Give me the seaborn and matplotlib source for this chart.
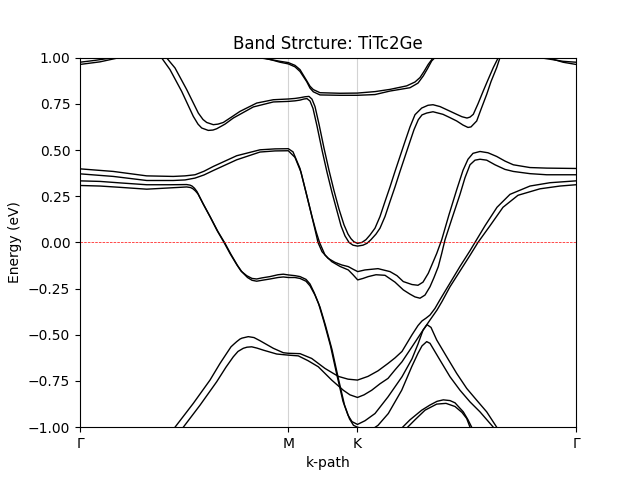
import matplotlib
matplotlib.use("Agg")
import matplotlib.pyplot as plt
import seaborn as sns
import pandas as pd

# k-path tick positions and labels
tick_pos = [0.0, 2.083, 2.773, 4.96]
tick_labels = ["Γ", "M", "K", "Γ"]

# bands as (k, E) pairs
band_top_left_1 = [(0, 0.975), (0.15, 0.985), (0.30, 0.997), (0.36, 1.003)]
band_top_left_2 = [(0, 0.963), (0.20, 0.977), (0.37, 0.997), (0.42, 1.003)]
band_top_right_1 = [(4.58, 1.004), (4.63, 0.997), (4.75, 0.987), (4.83, 0.98), (4.96, 0.975)]
band_top_right_2 = [(4.65, 1.004), (4.70, 0.996), (4.83, 0.975), (4.96, 0.963)]

band_v1 = [(0.84, 1.012), (0.867, 0.998), (0.95, 0.944), (1.067, 0.827), (1.183, 0.70), (1.23, 0.665),
           (1.267, 0.649), (1.333, 0.637), (1.38, 0.64), (1.433, 0.649), (1.52, 0.68), (1.60, 0.709),
           (1.767, 0.754), (1.933, 0.772), (2.083, 0.776),
           (2.15, 0.779), (2.20, 0.783), (2.25, 0.788), (2.29, 0.79), (2.32, 0.775), (2.35, 0.735),
           (2.39, 0.64), (2.44, 0.51), (2.49, 0.39), (2.54, 0.28), (2.59, 0.18), (2.64, 0.095),
           (2.68, 0.045), (2.71, 0.02), (2.74, 0.003), (2.775, -0.005), (2.82, 0.0), (2.86, 0.015),
           (2.90, 0.04), (2.95, 0.077), (3.00, 0.14), (3.05, 0.221), (3.10, 0.30), (3.15, 0.384),
           (3.20, 0.465), (3.25, 0.546), (3.30, 0.625), (3.35, 0.691), (3.417, 0.727), (3.48, 0.742),
           (3.53, 0.745), (3.60, 0.735), (3.68, 0.715), (3.767, 0.693), (3.82, 0.68), (3.87, 0.673),
           (3.90, 0.678), (3.933, 0.693), (3.98, 0.75), (4.033, 0.82), (4.08, 0.88), (4.133, 0.946),
           (4.183, 1.0), (4.20, 1.02)]

band_v2 = [(0.79, 1.012), (0.817, 0.998), (0.90, 0.935), (1.017, 0.817), (1.133, 0.682), (1.18, 0.64),
           (1.217, 0.619), (1.283, 0.606), (1.33, 0.608), (1.367, 0.615), (1.45, 0.64), (1.533, 0.673),
           (1.733, 0.733), (1.933, 0.76), (2.083, 0.763),
           (2.15, 0.766), (2.20, 0.77), (2.24, 0.776), (2.27, 0.778), (2.30, 0.765), (2.33, 0.725),
           (2.37, 0.63), (2.42, 0.50), (2.47, 0.38), (2.52, 0.27), (2.57, 0.17), (2.61, 0.09),
           (2.65, 0.035), (2.69, 0.0), (2.73, -0.015), (2.775, -0.02), (2.83, -0.015), (2.87, -0.005),
           (2.91, 0.015), (2.96, 0.045), (3.00, 0.077), (3.05, 0.14), (3.10, 0.221), (3.15, 0.30),
           (3.20, 0.384), (3.25, 0.465), (3.30, 0.546), (3.34, 0.61), (3.383, 0.664), (3.42, 0.69),
           (3.467, 0.70), (3.53, 0.707), (3.63, 0.693), (3.70, 0.675), (3.767, 0.657), (3.83, 0.635),
           (3.88, 0.622), (3.91, 0.625), (3.967, 0.657), (4.01, 0.72), (4.067, 0.801), (4.11, 0.87),
           (4.167, 0.946), (4.20, 1.0), (4.22, 1.03)]

band_f1 = [(1.75, 1.003), (1.90, 0.99), (2.00, 0.98), (2.083, 0.973), (2.15, 0.958), (2.20, 0.935),
           (2.267, 0.875), (2.30, 0.845), (2.333, 0.827), (2.40, 0.81), (2.60, 0.807), (2.773, 0.808),
           (2.95, 0.816), (3.10, 0.828), (3.267, 0.847), (3.35, 0.868), (3.40, 0.892), (3.44, 0.925),
           (3.483, 0.964), (3.533, 1.0), (3.55, 1.01)]
band_f2 = [(1.80, 1.003), (1.92, 0.987), (2.00, 0.975), (2.083, 0.966), (2.15, 0.95), (2.20, 0.925),
           (2.267, 0.87), (2.30, 0.835), (2.333, 0.815), (2.40, 0.798), (2.60, 0.796), (2.773, 0.796),
           (2.95, 0.80), (3.10, 0.819), (3.30, 0.837), (3.38, 0.862), (3.433, 0.901), (3.475, 0.94),
           (3.517, 0.982), (3.55, 1.0), (3.57, 1.01)]

band_r1 = [(0, 0.398), (0.333, 0.384), (0.667, 0.36), (0.933, 0.357), (1.05, 0.36), (1.15, 0.366),
           (1.24, 0.385), (1.333, 0.411), (1.567, 0.469), (1.80, 0.501), (1.95, 0.506), (2.083, 0.507),
           (2.13, 0.49), (2.20, 0.40),
           (2.26, 0.27), (2.31, 0.16), (2.35, 0.07), (2.38, 0.0), (2.42, -0.05), (2.48, -0.086),
           (2.55, -0.108), (2.617, -0.122), (2.683, -0.131), (2.73, -0.145), (2.777, -0.158),
           (2.85, -0.149), (2.98, -0.142), (3.10, -0.158), (3.17, -0.18), (3.233, -0.212), (3.32, -0.228),
           (3.38, -0.232), (3.43, -0.215), (3.483, -0.167), (3.52, -0.12), (3.567, -0.06), (3.617, 0.014),
           (3.69, 0.15), (3.767, 0.285), (3.83, 0.39), (3.88, 0.45), (3.93, 0.482), (4.00, 0.492),
           (4.08, 0.485), (4.167, 0.465), (4.25, 0.44), (4.333, 0.42), (4.50, 0.405), (4.667, 0.402),
           (4.96, 0.40)]
band_r2 = [(0, 0.371), (0.333, 0.357), (0.667, 0.335), (0.933, 0.335), (1.05, 0.338), (1.15, 0.348),
           (1.24, 0.365), (1.333, 0.389), (1.567, 0.447), (1.80, 0.489), (1.95, 0.495), (2.083, 0.496),
           (2.15, 0.46), (2.21, 0.38),
           (2.27, 0.25), (2.32, 0.14), (2.36, 0.06), (2.395, 0.0), (2.45, -0.068), (2.517, -0.104),
           (2.60, -0.13), (2.683, -0.149), (2.73, -0.175), (2.777, -0.203), (2.83, -0.195), (2.883, -0.185),
           (2.96, -0.175), (3.05, -0.178), (3.15, -0.215), (3.233, -0.257), (3.30, -0.28), (3.35, -0.295),
           (3.40, -0.302), (3.45, -0.285), (3.50, -0.24), (3.54, -0.19), (3.583, -0.131), (3.617, -0.06),
           (3.65, 0.014), (3.72, 0.13), (3.80, 0.26), (3.85, 0.35), (3.90, 0.42), (3.95, 0.445),
           (4.00, 0.45), (4.067, 0.445), (4.15, 0.42), (4.25, 0.395), (4.333, 0.384), (4.50, 0.372),
           (4.667, 0.366), (4.96, 0.366)]

band_q1 = [(0, 0.333), (0.20, 0.33), (0.40, 0.322), (0.667, 0.312), (0.90, 0.312), (1.067, 0.313),
           (1.10, 0.31), (1.12, 0.305), (1.145, 0.293), (1.17, 0.275), (1.23, 0.21), (1.30, 0.14),
           (1.37, 0.065), (1.44, 0.0),
           (1.50, -0.06), (1.567, -0.12), (1.61, -0.155), (1.667, -0.18), (1.72, -0.195), (1.767, -0.198),
           (1.82, -0.192), (1.90, -0.185), (1.98, -0.175), (2.033, -0.172), (2.083, -0.176), (2.15, -0.18),
           (2.20, -0.185), (2.26, -0.20), (2.30, -0.225), (2.34, -0.27), (2.385, -0.33), (2.44, -0.43),
           (2.505, -0.56), (2.57, -0.72), (2.63, -0.86), (2.68, -0.935), (2.72, -0.97), (2.775, -0.985),
           (2.85, -0.965), (2.95, -0.926), (3.08, -0.836), (3.22, -0.727), (3.32, -0.63), (3.38, -0.55),
           (3.43, -0.475), (3.47, -0.445), (3.51, -0.46), (3.567, -0.528), (3.667, -0.619), (3.767, -0.709),
           (3.867, -0.79), (3.967, -0.854), (4.067, -0.917), (4.167, -1.0), (4.20, -1.025)]
band_q2 = [(0, 0.308), (0.20, 0.305), (0.40, 0.298), (0.667, 0.288), (0.90, 0.295), (1.067, 0.30),
           (1.105, 0.297), (1.13, 0.29), (1.155, 0.278), (1.18, 0.262), (1.24, 0.20), (1.31, 0.13),
           (1.38, 0.058), (1.45, -0.005),
           (1.51, -0.065), (1.575, -0.125), (1.62, -0.16), (1.675, -0.19), (1.72, -0.205), (1.767, -0.21),
           (1.82, -0.205), (1.90, -0.198), (1.98, -0.19), (2.033, -0.187), (2.083, -0.19), (2.15, -0.19),
           (2.20, -0.195), (2.26, -0.21), (2.30, -0.235), (2.35, -0.285), (2.40, -0.35), (2.455, -0.45),
           (2.52, -0.58), (2.585, -0.74), (2.645, -0.88), (2.695, -0.955), (2.735, -0.99), (2.775, -1.0),
           (2.85, -1.01), (2.92, -1.012), (2.98, -0.99), (3.083, -0.926), (3.217, -0.80), (3.317, -0.673),
           (3.38, -0.60), (3.42, -0.56), (3.467, -0.537), (3.50, -0.546), (3.60, -0.637), (3.70, -0.727),
           (3.80, -0.80), (3.90, -0.863), (4.00, -0.917), (4.133, -1.0), (4.17, -1.025)]

band_t1 = [(0.88, -1.05), (0.95, -1.0), (1.133, -0.871), (1.30, -0.745), (1.40, -0.655), (1.467, -0.60),
           (1.51, -0.565), (1.54, -0.55), (1.567, -0.537), (1.60, -0.523), (1.62, -0.518), (1.683, -0.51),
           (1.74, -0.515), (1.80, -0.532), (1.933, -0.573), (2.033, -0.597),
           (2.083, -0.60), (2.20, -0.602), (2.317, -0.628), (2.45, -0.682), (2.583, -0.725), (2.68, -0.74),
           (2.775, -0.745), (2.88, -0.725), (2.98, -0.695), (3.08, -0.655), (3.15, -0.625), (3.22, -0.59),
           (3.32, -0.50), (3.38, -0.45), (3.42, -0.425), (3.46, -0.41), (3.50, -0.393), (3.55, -0.357),
           (3.60, -0.31), (3.70, -0.22), (3.80, -0.13), (3.90, -0.045), (3.95, 0.0), (4.05, 0.09),
           (4.17, 0.19), (4.30, 0.26), (4.50, 0.305), (4.70, 0.323), (4.96, 0.333)]
band_t2 = [(0.96, -1.05), (1.033, -1.0), (1.20, -0.881), (1.367, -0.754), (1.46, -0.675), (1.533, -0.619),
           (1.58, -0.59), (1.633, -0.573), (1.67, -0.567), (1.717, -0.565), (1.77, -0.572), (1.833, -0.583),
           (1.967, -0.604), (2.083, -0.61), (2.183, -0.614),
           (2.28, -0.64), (2.383, -0.673), (2.517, -0.745), (2.633, -0.80), (2.70, -0.825), (2.775, -0.839),
           (2.84, -0.825), (2.917, -0.80), (3.00, -0.765), (3.08, -0.736), (3.15, -0.69), (3.22, -0.646),
           (3.32, -0.565), (3.42, -0.483), (3.50, -0.42), (3.57, -0.366), (3.62, -0.32), (3.70, -0.24),
           (3.80, -0.155), (3.90, -0.07), (3.98, 0.0), (4.10, 0.09), (4.23, 0.19), (4.38, 0.255),
           (4.60, 0.29), (4.80, 0.305), (4.96, 0.312)]

band_e1 = [(3.18, -1.03), (3.217, -1.005), (3.30, -0.96), (3.417, -0.908), (3.50, -0.88), (3.57, -0.86),
           (3.633, -0.852), (3.70, -0.856), (3.75, -0.868), (3.833, -0.917), (3.88, -0.96), (3.917, -1.0),
           (3.94, -1.03)]
band_e2 = [(3.24, -1.03), (3.267, -1.005), (3.35, -0.96), (3.45, -0.908), (3.567, -0.875), (3.66, -0.871),
           (3.75, -0.888), (3.82, -0.92), (3.867, -0.953), (3.90, -1.0), (3.92, -1.03)]

bands = {
    "tl1": band_top_left_1, "tl2": band_top_left_2, "tr1": band_top_right_1, "tr2": band_top_right_2,
    "v1": band_v1, "v2": band_v2, "f1": band_f1, "f2": band_f2,
    "r1": band_r1, "r2": band_r2, "q1": band_q1, "q2": band_q2,
    "t1": band_t1, "t2": band_t2, "e1": band_e1, "e2": band_e2,
}

rows = []
for name, pts in bands.items():
    for i, (k, e) in enumerate(pts):
        rows.append({"band": name, "order": i, "k": k, "E": e})
df = pd.DataFrame(rows)

fig, ax = plt.subplots(figsize=(6.4, 4.8), dpi=100)
sns.lineplot(data=df, x="k", y="E", units="band", estimator=None, sort=False,
             color="black", linewidth=1.0, legend=False, ax=ax)

for p in tick_pos[1:-1]:
    ax.axvline(p, color="lightgray", linewidth=0.8, zorder=0)
ax.axhline(0, color="red", linestyle="--", linewidth=0.5)

ax.set_xlim(tick_pos[0], tick_pos[-1])
ax.set_ylim(-1, 1)
ax.set_xticks(tick_pos)
ax.set_xticklabels(tick_labels)
ax.set_xlabel("k-path")
ax.set_ylabel("Energy (eV)")
ax.set_title("Band Strcture: TiTc2Ge")

fig.savefig("out.png", dpi=100)
